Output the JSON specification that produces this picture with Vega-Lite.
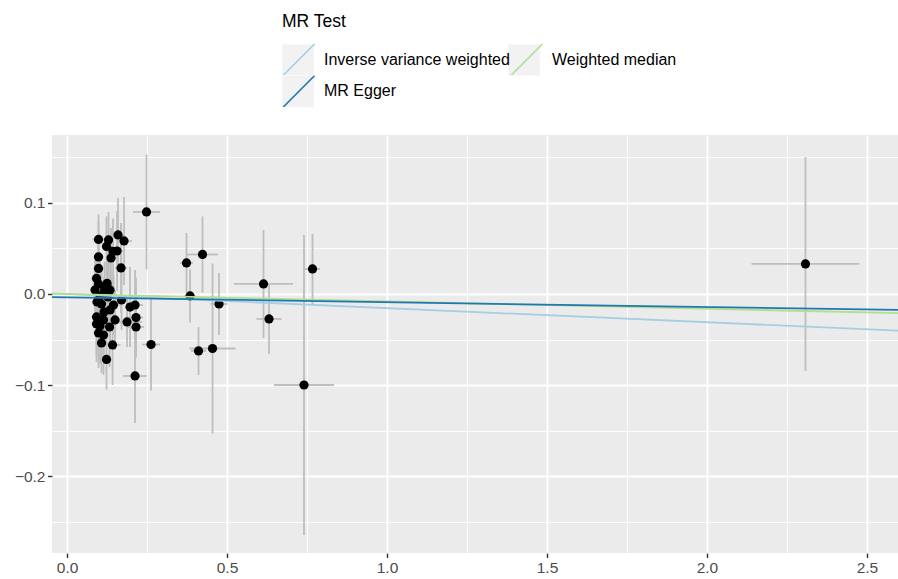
{
  "$schema": "https://vega.github.io/schema/vega-lite/v6.json",
  "width": 846,
  "height": 418,
  "autosize": {"type": "none"},
  "padding": {"left": 52, "top": 135, "right": 0, "bottom": 26},
  "background": "white",
  "config": {
    "font": "Liberation Sans",
    "view": {"fill": "#ebebeb", "stroke": null},
    "axis": {
      "domain": false,
      "grid": true,
      "gridColor": "white",
      "tickColor": "#333333",
      "tickSize": 4.5,
      "tickWidth": 1.4,
      "labelColor": "#4d4d4d",
      "labelFontSize": 15.5,
      "labelPadding": 2.5,
      "labelOverlap": false,
      "labelFlush": false,
      "labelBound": false
    }
  },
  "datasets": {
    "snps": [
      {"bx": 2.3078, "by": 0.0329, "sx": 0.1688, "sy": 0.1173},
      {"bx": 0.2484, "by": 0.0899, "sx": 0.0422, "sy": 0.0630},
      {"bx": 0.3734, "by": 0.0340, "sx": 0.0203, "sy": 0.0329},
      {"bx": 0.4234, "by": 0.0433, "sx": 0.0484, "sy": 0.0417},
      {"bx": 0.3844, "by": -0.0022, "sx": 0.0172, "sy": 0.0291},
      {"bx": 0.4750, "by": -0.0110, "sx": 0.0266, "sy": 0.0340},
      {"bx": 0.4109, "by": -0.0625, "sx": 0.0234, "sy": 0.0263},
      {"bx": 0.4547, "by": -0.0598, "sx": 0.0719, "sy": 0.0932},
      {"bx": 0.6141, "by": 0.0110, "sx": 0.0922, "sy": 0.0592},
      {"bx": 0.6313, "by": -0.0274, "sx": 0.0391, "sy": 0.0384},
      {"bx": 0.7406, "by": -0.0998, "sx": 0.0938, "sy": 0.1645},
      {"bx": 0.7672, "by": 0.0274, "sx": 0.0234, "sy": 0.0384},
      {"bx": 0.2625, "by": -0.0554, "sx": 0.0281, "sy": 0.0504},
      {"bx": 0.2125, "by": -0.0899, "sx": 0.0375, "sy": 0.0515},
      {"bx": 0.0984, "by": 0.0598, "sx": 0.0188, "sy": 0.0274},
      {"bx": 0.1297, "by": 0.0592, "sx": 0.0156, "sy": 0.0307},
      {"bx": 0.1594, "by": 0.0647, "sx": 0.0188, "sy": 0.0406},
      {"bx": 0.1781, "by": 0.0581, "sx": 0.0250, "sy": 0.0482},
      {"bx": 0.1234, "by": 0.0521, "sx": 0.0156, "sy": 0.0329},
      {"bx": 0.1438, "by": 0.0466, "sx": 0.0156, "sy": 0.0362},
      {"bx": 0.1563, "by": 0.0471, "sx": 0.0188, "sy": 0.0439},
      {"bx": 0.1375, "by": 0.0395, "sx": 0.0156, "sy": 0.0329},
      {"bx": 0.0984, "by": 0.0406, "sx": 0.0156, "sy": 0.0384},
      {"bx": 0.1688, "by": 0.0285, "sx": 0.0188, "sy": 0.0493},
      {"bx": 0.0984, "by": 0.0280, "sx": 0.0156, "sy": 0.0274},
      {"bx": 0.0922, "by": 0.0170, "sx": 0.0156, "sy": 0.0285},
      {"bx": 0.0984, "by": 0.0110, "sx": 0.0188, "sy": 0.0307},
      {"bx": 0.1250, "by": 0.0115, "sx": 0.0188, "sy": 0.0329},
      {"bx": 0.0875, "by": 0.0044, "sx": 0.0156, "sy": 0.0329},
      {"bx": 0.1172, "by": 0.0044, "sx": 0.0188, "sy": 0.0307},
      {"bx": 0.1344, "by": 0.0044, "sx": 0.0156, "sy": 0.0351},
      {"bx": 0.1031, "by": -0.0022, "sx": 0.0188, "sy": 0.0384},
      {"bx": 0.1281, "by": -0.0033, "sx": 0.0188, "sy": 0.0329},
      {"bx": 0.1703, "by": -0.0066, "sx": 0.0188, "sy": 0.0329},
      {"bx": 0.1969, "by": -0.0143, "sx": 0.0156, "sy": 0.0439},
      {"bx": 0.2125, "by": -0.0121, "sx": 0.0250, "sy": 0.0384},
      {"bx": 0.1453, "by": -0.0121, "sx": 0.0188, "sy": 0.0329},
      {"bx": 0.1078, "by": -0.0110, "sx": 0.0156, "sy": 0.0384},
      {"bx": 0.1344, "by": -0.0175, "sx": 0.0188, "sy": 0.0384},
      {"bx": 0.0922, "by": -0.0252, "sx": 0.0156, "sy": 0.0439},
      {"bx": 0.1141, "by": -0.0285, "sx": 0.0188, "sy": 0.0417},
      {"bx": 0.1875, "by": -0.0307, "sx": 0.0469, "sy": 0.0274},
      {"bx": 0.2156, "by": -0.0258, "sx": 0.0219, "sy": 0.0439},
      {"bx": 0.2156, "by": -0.0362, "sx": 0.0250, "sy": 0.0274},
      {"bx": 0.1328, "by": -0.0362, "sx": 0.0188, "sy": 0.0439},
      {"bx": 0.0922, "by": -0.0329, "sx": 0.0156, "sy": 0.0417},
      {"bx": 0.0984, "by": -0.0428, "sx": 0.0156, "sy": 0.0384},
      {"bx": 0.1141, "by": -0.0450, "sx": 0.0156, "sy": 0.0439},
      {"bx": 0.1078, "by": -0.0537, "sx": 0.0188, "sy": 0.0329},
      {"bx": 0.1422, "by": -0.0559, "sx": 0.0250, "sy": 0.0439},
      {"bx": 0.1234, "by": -0.0718, "sx": 0.0156, "sy": 0.0329},
      {"bx": 0.0938, "by": -0.0088, "sx": 0.0156, "sy": 0.0329},
      {"bx": 0.1156, "by": -0.0197, "sx": 0.0156, "sy": 0.0384},
      {"bx": 0.1500, "by": -0.0285, "sx": 0.0156, "sy": 0.0329},
      {"bx": 0.1031, "by": -0.0351, "sx": 0.0188, "sy": 0.0417}
    ],
    "lines": [
      {"method": "Inverse variance weighted", "x": -0.047, "y": 0.00073},
      {"method": "Inverse variance weighted", "x": 2.597, "y": -0.04025},
      {"method": "Weighted median", "x": -0.047, "y": 0.00038},
      {"method": "Weighted median", "x": 2.597, "y": -0.02104},
      {"method": "MR Egger", "x": -0.047, "y": -0.00345},
      {"method": "MR Egger", "x": 2.597, "y": -0.01752}
    ]
  },
  "layer": [
    {
      "data": {"name": "snps"},
      "mark": {"type": "errorbar", "color": "#bebebe", "thickness": 1.8},
      "encoding": {
        "x": {
          "field": "bx", "type": "quantitative",
          "scale": {"domain": [-0.047, 2.597], "nice": false, "zero": false},
          "axis": {
            "title": null,
            "values": [0, 0.25, 0.5, 0.75, 1, 1.25, 1.5, 1.75, 2, 2.25, 2.5],
            "labelExpr": "(round(datum.value*4) % 2 == 0) ? format(datum.value, '.1f') : ''",
            "gridWidth": {"condition": {"test": "round(datum.value*4) % 2 == 0", "value": 1.8}, "value": 0.9},
            "tickOpacity": {"condition": {"test": "round(datum.value*4) % 2 == 0", "value": 1}, "value": 0}
          }
        },
        "y": {
          "field": "by", "type": "quantitative",
          "scale": {"domain": [-0.284, 0.1743], "nice": false, "zero": false},
          "axis": {
            "title": null,
            "values": [-0.25, -0.2, -0.15, -0.1, -0.05, 0, 0.05, 0.1, 0.15],
            "labelExpr": "(round(datum.value*20) % 2 == 0) ? format(datum.value, '.1f') : ''",
            "gridWidth": {"condition": {"test": "round(datum.value*20) % 2 == 0", "value": 1.8}, "value": 0.9},
            "tickOpacity": {"condition": {"test": "round(datum.value*20) % 2 == 0", "value": 1}, "value": 0}
          }
        },
        "yError": {"field": "sy"}
      }
    },
    {
      "data": {"name": "snps"},
      "mark": {"type": "errorbar", "color": "#bebebe", "thickness": 1.8},
      "encoding": {
        "x": {
          "field": "bx", "type": "quantitative",
          "scale": {"domain": [-0.047, 2.597], "nice": false, "zero": false},
          "axis": {
            "title": null,
            "values": [0, 0.25, 0.5, 0.75, 1, 1.25, 1.5, 1.75, 2, 2.25, 2.5],
            "labelExpr": "(round(datum.value*4) % 2 == 0) ? format(datum.value, '.1f') : ''",
            "gridWidth": {"condition": {"test": "round(datum.value*4) % 2 == 0", "value": 1.8}, "value": 0.9},
            "tickOpacity": {"condition": {"test": "round(datum.value*4) % 2 == 0", "value": 1}, "value": 0}
          }
        },
        "xError": {"field": "sx"},
        "y": {
          "field": "by", "type": "quantitative",
          "scale": {"domain": [-0.284, 0.1743], "nice": false, "zero": false},
          "axis": {
            "title": null,
            "values": [-0.25, -0.2, -0.15, -0.1, -0.05, 0, 0.05, 0.1, 0.15],
            "labelExpr": "(round(datum.value*20) % 2 == 0) ? format(datum.value, '.1f') : ''",
            "gridWidth": {"condition": {"test": "round(datum.value*20) % 2 == 0", "value": 1.8}, "value": 0.9},
            "tickOpacity": {"condition": {"test": "round(datum.value*20) % 2 == 0", "value": 1}, "value": 0}
          }
        }
      }
    },
    {
      "data": {"name": "snps"},
      "mark": {"type": "point", "filled": true, "color": "black", "size": 85, "opacity": 1},
      "encoding": {
        "x": {
          "field": "bx", "type": "quantitative",
          "scale": {"domain": [-0.047, 2.597], "nice": false, "zero": false},
          "axis": {
            "title": null,
            "values": [0, 0.25, 0.5, 0.75, 1, 1.25, 1.5, 1.75, 2, 2.25, 2.5],
            "labelExpr": "(round(datum.value*4) % 2 == 0) ? format(datum.value, '.1f') : ''",
            "gridWidth": {"condition": {"test": "round(datum.value*4) % 2 == 0", "value": 1.8}, "value": 0.9},
            "tickOpacity": {"condition": {"test": "round(datum.value*4) % 2 == 0", "value": 1}, "value": 0}
          }
        },
        "y": {
          "field": "by", "type": "quantitative",
          "scale": {"domain": [-0.284, 0.1743], "nice": false, "zero": false},
          "axis": {
            "title": null,
            "values": [-0.25, -0.2, -0.15, -0.1, -0.05, 0, 0.05, 0.1, 0.15],
            "labelExpr": "(round(datum.value*20) % 2 == 0) ? format(datum.value, '.1f') : ''",
            "gridWidth": {"condition": {"test": "round(datum.value*20) % 2 == 0", "value": 1.8}, "value": 0.9},
            "tickOpacity": {"condition": {"test": "round(datum.value*20) % 2 == 0", "value": 1}, "value": 0}
          }
        }
      }
    },
    {
      "data": {"name": "lines"},
      "mark": {"type": "point", "filled": true, "size": 0, "opacity": 1, "strokeWidth": 0},
      "encoding": {
        "x": {
          "field": "x", "type": "quantitative",
          "scale": {"domain": [-0.047, 2.597], "nice": false, "zero": false},
          "axis": {
            "title": null,
            "values": [0, 0.25, 0.5, 0.75, 1, 1.25, 1.5, 1.75, 2, 2.25, 2.5],
            "labelExpr": "(round(datum.value*4) % 2 == 0) ? format(datum.value, '.1f') : ''",
            "gridWidth": {"condition": {"test": "round(datum.value*4) % 2 == 0", "value": 1.8}, "value": 0.9},
            "tickOpacity": {"condition": {"test": "round(datum.value*4) % 2 == 0", "value": 1}, "value": 0}
          }
        },
        "y": {
          "field": "y", "type": "quantitative",
          "scale": {"domain": [-0.284, 0.1743], "nice": false, "zero": false},
          "axis": {
            "title": null,
            "values": [-0.25, -0.2, -0.15, -0.1, -0.05, 0, 0.05, 0.1, 0.15],
            "labelExpr": "(round(datum.value*20) % 2 == 0) ? format(datum.value, '.1f') : ''",
            "gridWidth": {"condition": {"test": "round(datum.value*20) % 2 == 0", "value": 1.8}, "value": 0.9},
            "tickOpacity": {"condition": {"test": "round(datum.value*20) % 2 == 0", "value": 1}, "value": 0}
          }
        },
        "fill": {
          "field": "method", "type": "nominal",
          "scale": {"range": ["#f2f2f2"]},
          "legend": {
            "title": null,
            "orient": "none",
            "legendX": 230,
            "legendY": -91,
            "columns": 2,
            "columnPadding": 194,
            "rowPadding": 0,
            "clipHeight": 31.5,
            "padding": 0,
            "zindex": 0,
            "symbolType": "square",
            "symbolSize": 992,
            "symbolStrokeWidth": 0,
            "symbolOpacity": 1,
            "symbolOffset": 0,
            "labelExpr": "''",
            "labelOffset": 0,
            "labelFontSize": 16
          }
        }
      }
    },
    {
      "data": {"name": "lines"},
      "mark": {"type": "line", "clip": true, "strokeWidth": 1.8},
      "encoding": {
        "x": {
          "field": "x", "type": "quantitative",
          "scale": {"domain": [-0.047, 2.597], "nice": false, "zero": false},
          "axis": {
            "title": null,
            "values": [0, 0.25, 0.5, 0.75, 1, 1.25, 1.5, 1.75, 2, 2.25, 2.5],
            "labelExpr": "(round(datum.value*4) % 2 == 0) ? format(datum.value, '.1f') : ''",
            "gridWidth": {"condition": {"test": "round(datum.value*4) % 2 == 0", "value": 1.8}, "value": 0.9},
            "tickOpacity": {"condition": {"test": "round(datum.value*4) % 2 == 0", "value": 1}, "value": 0}
          }
        },
        "y": {
          "field": "y", "type": "quantitative",
          "scale": {"domain": [-0.284, 0.1743], "nice": false, "zero": false},
          "axis": {
            "title": null,
            "values": [-0.25, -0.2, -0.15, -0.1, -0.05, 0, 0.05, 0.1, 0.15],
            "labelExpr": "(round(datum.value*20) % 2 == 0) ? format(datum.value, '.1f') : ''",
            "gridWidth": {"condition": {"test": "round(datum.value*20) % 2 == 0", "value": 1.8}, "value": 0.9},
            "tickOpacity": {"condition": {"test": "round(datum.value*20) % 2 == 0", "value": 1}, "value": 0}
          }
        },
        "color": {
          "field": "method", "type": "nominal",
          "scale": {
            "domain": ["Inverse variance weighted", "MR Egger", "Weighted median"],
            "range": ["#a6cee3", "#1f78b4", "#b2df8a"]
          },
          "legend": {
            "title": "MR Test",
            "orient": "none",
            "legendX": 230,
            "legendY": -122.5,
            "columns": 2,
            "columnPadding": 0,
            "rowPadding": 0,
            "clipHeight": 31.5,
            "padding": 0,
            "zindex": 1,
            "symbolType": "M-1,1L1,-1",
            "symbolSize": 992,
            "symbolStrokeWidth": 1.6,
            "symbolOffset": 0,
            "labelOffset": 8,
            "labelFontSize": 16,
            "labelColor": "black",
            "labelLimit": 0,
            "titleFontSize": 17.5,
            "titleFontWeight": "normal",
            "titleColor": "black",
            "titlePadding": 13.5
          }
        }
      }
    }
  ]
}
